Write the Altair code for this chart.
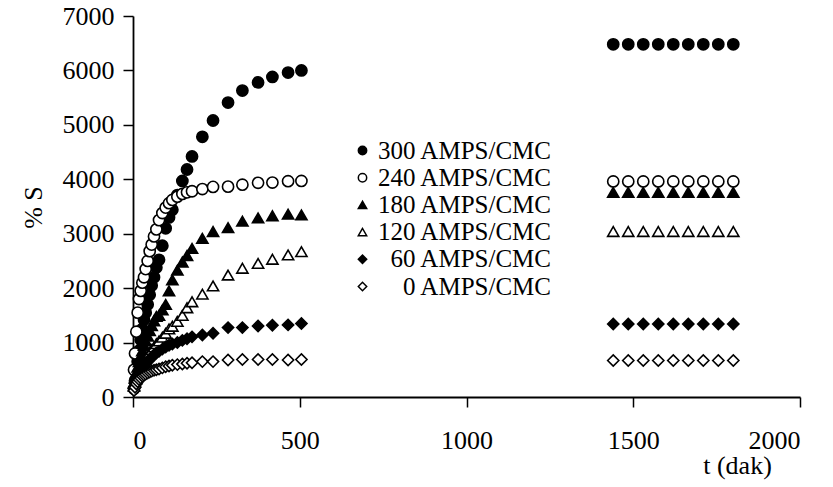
import altair as alt
import pandas as pd

# ---- data ----
series_names = ["300 AMPS/CMC", "240 AMPS/CMC", "180 AMPS/CMC",
                "120 AMPS/CMC", "\u200b\u200760 AMPS/CMC", "\u200b\u2007\u20070 AMPS/CMC"]

t_early = [3, 6, 10, 14, 18, 23, 28, 33, 38, 44, 50, 56, 63, 70, 78, 88, 98,
           108, 118, 133, 148, 162, 177, 208, 240, 285, 328, 375, 418, 465, 505]
t_late = [1440, 1485, 1530, 1575, 1620, 1665, 1710, 1755, 1800]

s300 = [150, 300, 450, 650, 850, 1050, 1250, 1420, 1550, 1700, 1880, 2050, 2200,
        2380, 2520, 2780, 3100, 3300, 3440, 3710, 3970, 4180, 4420, 4780, 5080,
        5410, 5630, 5780, 5880, 5960, 6000]
s240 = [500, 800, 1200, 1550, 1800, 1950, 2100, 2200, 2350, 2500, 2680, 2800, 2950,
        3080, 3250, 3380, 3480, 3560, 3620, 3680, 3730, 3760, 3780, 3820, 3860,
        3865, 3900, 3935, 3940, 3965, 3970]
s180 = [250, 350, 450, 550, 650, 750, 850, 950, 1030, 1120, 1220, 1310, 1400,
        1480, 1500, 1600, 1700, 1950, 2150, 2330, 2480, 2600, 2730, 2915, 3040,
        3110, 3230, 3290, 3330, 3360, 3345]
s120 = [200, 280, 350, 420, 480, 540, 600, 650, 700, 760, 820, 870, 920, 980,
        1030, 1100, 1170, 1250, 1300, 1390, 1500, 1640, 1750, 1890, 2040, 2240,
        2365, 2455, 2530, 2610, 2670]
s60 = [180, 250, 320, 380, 430, 480, 530, 570, 610, 650, 690, 730, 770, 810, 840,
       880, 920, 950, 975, 1000, 1040, 1070, 1105, 1140, 1170, 1275, 1275, 1305,
       1320, 1325, 1350]
s0 = [120, 180, 240, 280, 320, 350, 380, 400, 420, 440, 460, 475, 490, 500, 515,
      535, 555, 570, 585, 595, 605, 620, 630, 650, 650, 680, 690, 690, 690, 680, 690]

late_values = [6480, 3960, 3760, 3040, 1340, 670]

early_values = [s300, s240, s180, s120, s60, s0]

shapes = ["circle", "circle", "triangle-up", "triangle-up", "diamond", "diamond"]
fills = ["black", "white", "black", "white", "black", "white"]
strokes = ["black"] * 6

x_ticks = [0, 500, 1000, 1500, 2000]
y_ticks = [0, 1000, 2000, 3000, 4000, 5000, 6000, 7000]

rows = []
for i, (name, vals, lv) in enumerate(zip(series_names, early_values, late_values)):
    for t, v in zip(t_early, vals):
        rows.append({"series": name, "t": t, "S": v, "k": i})
    for t in t_late:
        rows.append({"series": name, "t": t, "S": lv, "k": i})
df = pd.DataFrame(rows)

FONT = "Liberation Serif"

leg = alt.Legend(title=None, orient="none",
                 legendX=217, legendY=122,
                 padding=0, rowPadding=1.2,
                 labelOffset=3, symbolSize=70,
                 symbolStrokeColor="black",
                 symbolStrokeWidth=1.5,
                 labelFont=FONT, labelFontSize=25,
                 labelColor="black", labelLimit=400)

chart = alt.Chart(df).mark_point(
    filled=True, strokeWidth=1.6, opacity=1, size=125
).encode(
    x=alt.X("t:Q",
            scale=alt.Scale(domain=[0, 2000], nice=False, zero=False),
            axis=alt.Axis(values=x_ticks, title="t (dak)", format="d",
                          labelPadding=20, titleX=604, titleY=68,
                          titleAlign="center", titleBaseline="middle")),
    y=alt.Y("S:Q",
            scale=alt.Scale(domain=[0, 7000], nice=False),
            axis=alt.Axis(values=y_ticks, title="% S", format="d",
                          labelPadding=9, titleX=-100, titleY=191,
                          titleAngle=270, titleAlign="center",
                          titleBaseline="middle")),
    shape=alt.Shape("series:N",
                    scale=alt.Scale(domain=series_names, range=shapes),
                    legend=leg),
    fill=alt.Fill("series:N",
                  scale=alt.Scale(domain=series_names, range=fills),
                  legend=leg),
    stroke=alt.Stroke("series:N",
                      scale=alt.Scale(domain=series_names, range=strokes),
                      legend=leg),
    order=alt.Order("k:Q"),
).properties(
    width=667, height=381,
    autosize=alt.AutoSizeParams(type="none"),
    padding={"left": 133, "top": 16, "right": 33, "bottom": 90},
    background="white",
).configure_view(
    stroke=None
).configure_axis(
    grid=False,
    domainColor="black", domainWidth=1.8,
    tickColor="black", tickWidth=1.5, tickSize=10,
    labelFont=FONT, labelFontSize=26, labelColor="black",
    titleFont=FONT, titleFontSize=26, titleColor="black",
    titleFontWeight="normal",
)

chart.save("out.html", embed_options={"renderer": "svg", "actions": False})
